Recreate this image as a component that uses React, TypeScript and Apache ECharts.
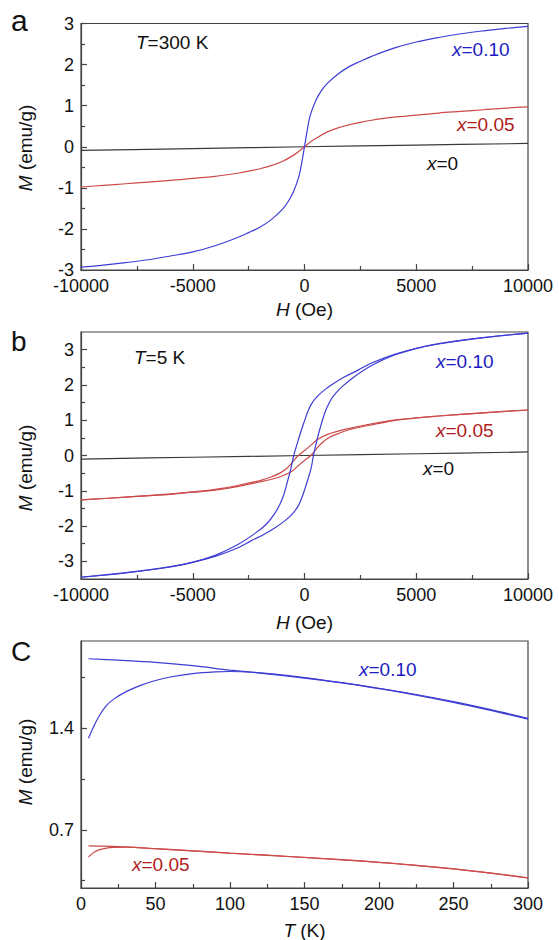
import React, { useEffect, useRef } from "react";
import * as echarts from "echarts";

const FONT = 'Arial, "Liberation Sans", Helvetica, sans-serif';

// ---- Panel a : T = 300 K, [H (Oe), M (emu/g)]
const a_x0: number[][] = [[-10000, -0.09], [-5000, -0.045], [0, 0], [5000, 0.04], [10000, 0.08]];
const a_x005: number[][] = [
  [-10000, -0.98], [-9000, -0.94], [-8000, -0.9], [-7000, -0.86], [-6000, -0.82], [-5000, -0.77],
  [-4000, -0.72], [-3000, -0.645], [-2500, -0.595], [-2000, -0.535], [-1500, -0.46], [-1000, -0.36],
  [-500, -0.21], [-250, -0.11], [0, 0], [250, 0.11], [500, 0.2], [1000, 0.355], [1500, 0.46],
  [2000, 0.535], [2500, 0.595], [3000, 0.645], [4000, 0.72], [5000, 0.77], [6000, 0.82], [7000, 0.86],
  [8000, 0.9], [9000, 0.94], [10000, 0.97],
];
const a_x010: number[][] = [
  [-10000, -2.93], [-9000, -2.88], [-8000, -2.82], [-7000, -2.75], [-6000, -2.66], [-5000, -2.56],
  [-4000, -2.41], [-3000, -2.21], [-2500, -2.09], [-2000, -1.96], [-1500, -1.78], [-1000, -1.53],
  [-750, -1.35], [-500, -1.1], [-250, -0.72], [-100, -0.32], [0, 0], [100, 0.33], [250, 0.75],
  [500, 1.12], [750, 1.36], [1000, 1.53], [1500, 1.77], [2000, 1.95], [2500, 2.08], [3000, 2.2],
  [4000, 2.4], [5000, 2.55], [6000, 2.66], [7000, 2.75], [8000, 2.82], [9000, 2.88], [10000, 2.93],
];

// ---- Panel b : T = 5 K
const b_x0: number[][] = [[-10000, -0.1], [-5000, -0.05], [0, 0], [5000, 0.05], [10000, 0.1]];
const b_x005_down: number[][] = [
  [10000, 1.29], [8000, 1.21], [6000, 1.12], [5000, 1.07], [4000, 1.0], [3000, 0.9], [2000, 0.77],
  [1500, 0.69], [1000, 0.59], [600, 0.46], [300, 0.3], [0, 0.14], [-280, 0.0], [-550, -0.2],
  [-800, -0.37], [-1100, -0.5], [-1500, -0.61], [-2000, -0.71], [-3000, -0.85], [-4000, -0.96],
  [-5000, -1.03], [-6000, -1.09], [-8000, -1.18], [-10000, -1.26],
];
const b_x005_up: number[][] = [
  [-10000, -1.26], [-8000, -1.18], [-6000, -1.1], [-5000, -1.04], [-4000, -0.98], [-3000, -0.88],
  [-2000, -0.75], [-1500, -0.68], [-1000, -0.58], [-600, -0.46], [-300, -0.3], [0, -0.14], [280, 0.0],
  [550, 0.2], [800, 0.37], [1100, 0.51], [1500, 0.62], [2000, 0.73], [3000, 0.87], [4000, 0.99],
  [5000, 1.06], [6000, 1.12], [8000, 1.21], [10000, 1.29],
];
const b_x010_down: number[][] = [
  [10000, 3.47], [8000, 3.34], [6000, 3.17], [5000, 3.04], [4000, 2.86], [3000, 2.62], [2400, 2.42],
  [1800, 2.23], [1300, 2.04], [900, 1.86], [550, 1.66], [300, 1.45], [120, 1.2], [0, 0.98],
  [-150, 0.7], [-330, 0.33], [-480, 0.0], [-620, -0.4], [-780, -0.78], [-930, -1.12], [-1100, -1.38],
  [-1350, -1.66], [-1700, -1.94], [-2200, -2.2], [-3000, -2.53], [-4000, -2.83], [-5000, -3.02],
  [-6000, -3.15], [-8000, -3.32], [-10000, -3.45],
];
const b_x010_up: number[][] = [
  [-10000, -3.45], [-8000, -3.33], [-6000, -3.16], [-5000, -3.03], [-4000, -2.86], [-3000, -2.62],
  [-2400, -2.42], [-1800, -2.23], [-1300, -2.04], [-900, -1.86], [-550, -1.66], [-300, -1.45],
  [-120, -1.2], [0, -0.98], [150, -0.68], [300, -0.35], [400, 0.0], [550, 0.42], [700, 0.78],
  [850, 1.1], [1000, 1.35], [1200, 1.6], [1400, 1.77], [1700, 1.96], [2200, 2.22], [3000, 2.55],
  [4000, 2.84], [5000, 3.03], [6000, 3.16], [8000, 3.34], [10000, 3.47],
];

// ---- Panel c : M vs T, [T (K), M (emu/g)]
const c_x010_fc: number[][] = [
  [5, 1.878], [25, 1.868], [50, 1.853], [75, 1.83], [100, 1.8], [125, 1.774], [150, 1.745],
  [175, 1.712], [200, 1.675], [225, 1.632], [250, 1.583], [275, 1.528], [300, 1.468],
];
const c_x010_zfc: number[][] = [
  [5, 1.33], [8, 1.4], [12, 1.48], [17, 1.555], [22, 1.6], [30, 1.65], [40, 1.695], [50, 1.728],
  [60, 1.752], [75, 1.775], [90, 1.787], [100, 1.79], [115, 1.785], [130, 1.772], [150, 1.748],
  [175, 1.713], [200, 1.672], [225, 1.628], [250, 1.578], [275, 1.522], [300, 1.462],
];
const c_x005_fc: number[][] = [
  [5, 0.59], [25, 0.585], [50, 0.57], [75, 0.556], [100, 0.54], [125, 0.526], [150, 0.511],
  [175, 0.495], [200, 0.477], [225, 0.456], [250, 0.432], [275, 0.403], [300, 0.37],
];
const c_x005_zfc: number[][] = [
  [5, 0.513], [8, 0.54], [12, 0.562], [17, 0.574], [22, 0.58], [30, 0.582], [50, 0.571],
  [75, 0.556], [100, 0.539], [150, 0.51], [200, 0.476], [250, 0.431], [300, 0.369],
];

// axis ticks / labels
const bYLabels = [-3, -2, -1, 0, 1, 2, 3];
const bYMinor = [-2.5, -1.5, -0.5, 0.5, 1.5, 2.5];
const cYLabels = [0.7, 1.4];
const cYMinor = [0.35, 1.05, 1.75];

const BLUE = "#3d3dd4";
const RED = "#cc4a4a";
const BLACK = "#3a3a3a";
const BLUE_T = "#1c1cc0";
const RED_T = "#b01c1c";
const AX = "#444";

const GRIDS = [
  { left: 81, top: 23.5, width: 447, height: 246.5 },
  { left: 81, top: 332, width: 447, height: 247 },
  { left: 81, top: 641, width: 447, height: 247 },
];

const axisLine = { show: true, onZero: false, lineStyle: { color: AX, width: 1.2 } };
const noLine = { show: false, onZero: false };
const tickLine = { color: AX, width: 1.2 };
const fmt = (v: number) => String(v);
const labelBase = { fontSize: 18, color: "#111", fontFamily: FONT, margin: 7, formatter: fmt };
const yLabelBase = { ...labelBase, lineHeight: 12 };

function xAx(gridIndex: number, min: number, max: number, interval: number) {
  return {
    type: "value", gridIndex, min, max, interval,
    axisLine,
    axisTick: { show: true, inside: true, length: 6, lineStyle: tickLine },
    minorTick: { show: true, splitNumber: 2, length: 4, lineStyle: tickLine },
    axisLabel: { ...labelBase, showMinLabel: true, showMaxLabel: true },
    splitLine: { show: false }, minorSplitLine: { show: false },
  };
}

function yAxCustom(gridIndex: number, min: number, max: number, ticks: number[], labels: boolean, len: number) {
  return {
    type: "value", gridIndex, min, max, position: "left", offset: 0,
    axisLine: labels ? axisLine : noLine,
    axisTick: { show: true, inside: true, length: len, lineStyle: tickLine, customValues: ticks },
    axisLabel: labels ? { ...yLabelBase, customValues: ticks } : { show: false },
    splitLine: { show: false },
  };
}

function line(data: number[][], color: string, xi: number, yi: number) {
  return {
    type: "line", data, xAxisIndex: xi, yAxisIndex: yi, showSymbol: false, symbol: "none",
    smooth: 0.35, silent: true,
    lineStyle: { color, width: 1.2 }, animation: false,
  };
}

function richText(x: number, y: number, parts: [string, boolean][], size: number, color: string, align = "left", rotation = 0) {
  const rich: any = {
    i: { fontStyle: "italic", fontSize: size, fontFamily: FONT, fill: color },
    n: { fontStyle: "normal", fontSize: size, fontFamily: FONT, fill: color },
  };
  const text = parts.map(([s, it]) => `{${it ? "i" : "n"}|${s}}`).join("");
  return {
    type: "text", x, y, rotation, silent: true,
    style: { text, rich, fontSize: size, fontFamily: FONT, fill: color, align, verticalAlign: "middle" },
  };
}

function plain(x: number, y: number, s: string, size: number) {
  return {
    type: "text", x, y, silent: true,
    style: { text: s, fontSize: size, fontFamily: FONT, fill: "#111", align: "left", verticalAlign: "middle" },
  };
}

export default function App() {
  const ref = useRef<HTMLDivElement>(null);
  useEffect(() => {
    const chart = echarts.init(ref.current!, null, { renderer: "svg" });
    const option: any = {
      animation: false,
      grid: GRIDS.map((g) => ({ ...g, show: true, borderColor: AX, borderWidth: 1.2, backgroundColor: "transparent", containLabel: false })),
      xAxis: [xAx(0, -10000, 10000, 5000), xAx(1, -10000, 10000, 5000), xAx(2, 0, 300, 50)],
      yAxis: [
        {
          type: "value", gridIndex: 0, min: -3, max: 3, interval: 1,
          axisLine,
          axisTick: { show: true, inside: true, length: 6, lineStyle: tickLine },
          minorTick: { show: true, splitNumber: 2, length: 4, lineStyle: tickLine },
          axisLabel: { ...yLabelBase },
          splitLine: { show: false }, minorSplitLine: { show: false },
        },
        yAxCustom(1, -3.5, 3.5, bYLabels, true, 6),
        yAxCustom(2, 0.3, 2.0, cYLabels, true, 6),
        yAxCustom(1, -3.5, 3.5, bYMinor, false, 4),
        yAxCustom(2, 0.3, 2.0, cYMinor, false, 4),
      ],
      series: [
        line(a_x0, BLACK, 0, 0),
        line(a_x005, RED, 0, 0),
        line(a_x010, BLUE, 0, 0),
        line(b_x0, BLACK, 1, 1),
        line(b_x005_down, RED, 1, 1),
        line(b_x005_up, RED, 1, 1),
        line(b_x010_down, BLUE, 1, 1),
        line(b_x010_up, BLUE, 1, 1),
        line(c_x010_fc, BLUE, 2, 2),
        line(c_x010_zfc, BLUE, 2, 2),
        line(c_x005_fc, RED, 2, 2),
        line(c_x005_zfc, RED, 2, 2),
      ],
      graphic: [
        plain(11, 20, "a", 30),
        plain(11, 341, "b", 28),
        plain(11, 651, "C", 28),
        richText(136, 42, [["T", true], ["=300 K", false]], 19, "#111"),
        richText(452, 49, [["x", true], ["=0.10", false]], 19, BLUE_T),
        richText(457, 124, [["x", true], ["=0.05", false]], 19, RED_T),
        richText(427, 163, [["x", true], ["=0", false]], 19, "#111"),
        richText(134, 357, [["T", true], ["=5 K", false]], 19, "#111"),
        richText(436, 361, [["x", true], ["=0.10", false]], 19, BLUE_T),
        richText(436, 430, [["x", true], ["=0.05", false]], 19, RED_T),
        richText(423, 468, [["x", true], ["=0", false]], 19, "#111"),
        richText(359, 669, [["x", true], ["=0.10", false]], 19, BLUE_T),
        richText(132, 864, [["x", true], ["=0.05", false]], 19, RED_T),
        richText(304.5, 309, [["H", true], [" (Oe)", false]], 19, "#111", "center"),
        richText(304.5, 622, [["H", true], [" (Oe)", false]], 19, "#111", "center"),
        richText(304.5, 930, [["T", true], [" (K)", false]], 19, "#111", "center"),
        richText(25, 148, [["M", true], [" (emu/g)", false]], 19, "#111", "center", Math.PI / 2),
        richText(25, 468, [["M", true], [" (emu/g)", false]], 19, "#111", "center", Math.PI / 2),
        richText(25, 762, [["M", true], [" (emu/g)", false]], 19, "#111", "center", Math.PI / 2),
      ],
    };
    chart.setOption(option);
    return () => chart.dispose();
  }, []);
  return <div ref={ref} style={{ position: "absolute", left: 0, top: 0, width: 559, height: 940 }} />;
}
